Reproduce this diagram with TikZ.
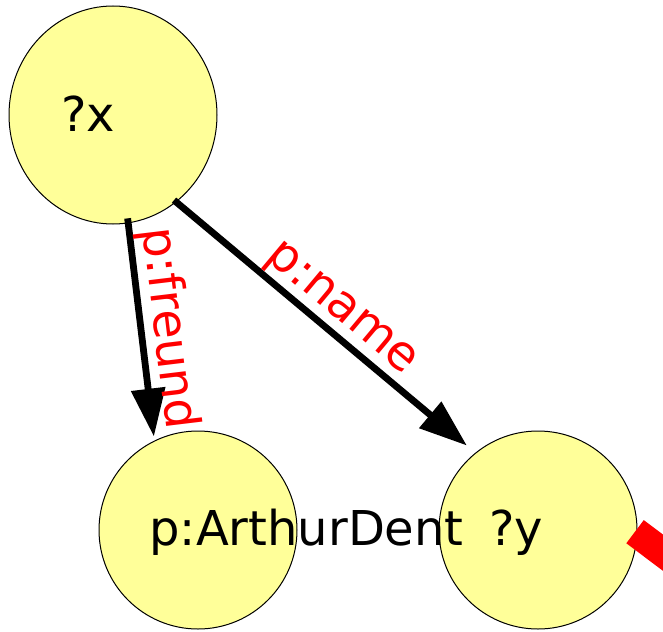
\documentclass[tikz,border=0pt]{standalone}
\usepackage{fontspec}
\setmainfont{DejaVu Sans}
\usetikzlibrary{arrows.meta,shapes.geometric}
\definecolor{nodeYellow}{RGB}{255,255,153}

\begin{document}
\begin{tikzpicture}[
  x=0.5pt,y=-0.5pt,
  font=\fontsize{24}{28}\selectfont,
  vertex/.style={circle,draw=black,line width=0.5pt,fill=nodeYellow,minimum size=99pt,inner sep=0pt},
  lbl/.style={inner sep=0pt,anchor=base west},
  edgelbl/.style={red,inner sep=0pt,sloped,anchor=south,midway},
  arr/.style={-{Triangle[length=24pt,width=16.5pt]},line width=3.4pt,black}
]
\useasboundingbox (0,0) rectangle (663,631);
\clip (0,0) rectangle (663,631);

\node[vertex,ellipse,minimum width=104pt,minimum height=109pt] (x) at (113,115) {};
\node[vertex] (ad) at (198,530) {};
\node[vertex] (y) at (538,530) {};

\node[lbl] (xtxt) at (61,132) {?x};
\node[lbl] (adtxt) at (149,545) {p:ArthurDent};
\node[lbl] (ytxt) at (489,545) {?y};

\draw[arr,shorten <=-2.5pt,shorten >=2pt] (x.-82) -- (ad.116) node[edgelbl] {p:freund};
\draw[arr,shorten <=-1.5pt,shorten >=5.5pt] (x.-54) -- (y.129) node[edgelbl] {p:name};

% outgoing edge, leaves the picture
\coordinate (yout) at (755,622);
\draw[red,line width=14.5pt,shorten <=-1.5pt] (y.-2.5) -- (yout);
\end{tikzpicture}
\end{document}
